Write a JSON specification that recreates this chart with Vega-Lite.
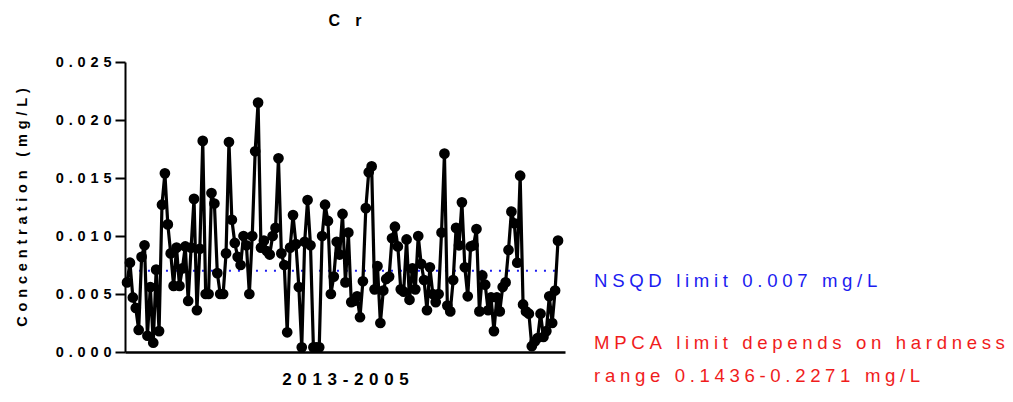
{
  "$schema": "https://vega.github.io/schema/vega-lite/v6.json",
  "width": 440,
  "height": 290,
  "autosize": {"type": "none"},
  "padding": {"left": 125, "top": 62, "right": 448, "bottom": 50},
  "background": "white",
  "title": {"text": "C\u2004 \u2004r", "font": "Liberation Sans", "fontSize": 16, "fontWeight": "bold", "color": "black", "anchor": "middle", "offset": 25},
  "config": {
    "view": {"stroke": null},
    "axis": {"grid": false, "domainColor": "black", "tickColor": "black", "labelColor": "black", "titleColor": "black", "labelFont": "Liberation Sans", "titleFont": "Liberation Sans", "labelFontWeight": "bold", "titleFontWeight": "bold"}
  },
  "datasets": {
    "cr": [
      {"i":1,"cr":0.0060},{"i":2,"cr":0.0077},{"i":3,"cr":0.0047},{"i":4,"cr":0.0038},{"i":5,"cr":0.0019},
      {"i":6,"cr":0.0082},{"i":7,"cr":0.0092},{"i":8,"cr":0.0014},{"i":9,"cr":0.0056},{"i":10,"cr":0.0008},
      {"i":11,"cr":0.0071},{"i":12,"cr":0.0018},{"i":13,"cr":0.0127},{"i":14,"cr":0.0154},{"i":15,"cr":0.0110},
      {"i":16,"cr":0.0085},{"i":17,"cr":0.0057},{"i":18,"cr":0.0090},{"i":19,"cr":0.0057},{"i":20,"cr":0.0072},
      {"i":21,"cr":0.0091},{"i":22,"cr":0.0044},{"i":23,"cr":0.0090},{"i":24,"cr":0.0132},{"i":25,"cr":0.0036},
      {"i":26,"cr":0.0089},{"i":27,"cr":0.0182},{"i":28,"cr":0.0050},{"i":29,"cr":0.0050},{"i":30,"cr":0.0137},
      {"i":31,"cr":0.0128},{"i":32,"cr":0.0068},{"i":33,"cr":0.0050},{"i":34,"cr":0.0050},{"i":35,"cr":0.0085},
      {"i":36,"cr":0.0181},{"i":37,"cr":0.0114},{"i":38,"cr":0.0094},{"i":39,"cr":0.0082},{"i":40,"cr":0.0075},
      {"i":41,"cr":0.0100},{"i":42,"cr":0.0092},{"i":43,"cr":0.0050},{"i":44,"cr":0.0100},{"i":45,"cr":0.0173},
      {"i":46,"cr":0.0215},{"i":47,"cr":0.0090},{"i":48,"cr":0.0096},{"i":49,"cr":0.0087},{"i":50,"cr":0.0084},
      {"i":51,"cr":0.0100},{"i":52,"cr":0.0107},{"i":53,"cr":0.0167},{"i":54,"cr":0.0085},{"i":55,"cr":0.0075},
      {"i":56,"cr":0.0017},{"i":57,"cr":0.0090},{"i":58,"cr":0.0118},{"i":59,"cr":0.0093},{"i":60,"cr":0.0056},
      {"i":61,"cr":0.0004},{"i":62,"cr":0.0095},{"i":63,"cr":0.0131},{"i":64,"cr":0.0092},{"i":65,"cr":0.0004},
      {"i":66,"cr":0.0004},{"i":67,"cr":0.0004},{"i":68,"cr":0.0100},{"i":69,"cr":0.0127},{"i":70,"cr":0.0113},
      {"i":71,"cr":0.0050},{"i":72,"cr":0.0065},{"i":73,"cr":0.0095},{"i":74,"cr":0.0084},{"i":75,"cr":0.0119},
      {"i":76,"cr":0.0060},{"i":77,"cr":0.0103},{"i":78,"cr":0.0043},{"i":79,"cr":0.0044},{"i":80,"cr":0.0048},
      {"i":81,"cr":0.0030},{"i":82,"cr":0.0061},{"i":83,"cr":0.0124},{"i":84,"cr":0.0155},{"i":85,"cr":0.0160},
      {"i":86,"cr":0.0054},{"i":87,"cr":0.0074},{"i":88,"cr":0.0025},{"i":89,"cr":0.0053},{"i":90,"cr":0.0063},
      {"i":91,"cr":0.0065},{"i":92,"cr":0.0098},{"i":93,"cr":0.0108},{"i":94,"cr":0.0091},{"i":95,"cr":0.0054},
      {"i":96,"cr":0.0052},{"i":97,"cr":0.0097},{"i":98,"cr":0.0045},{"i":99,"cr":0.0072},{"i":100,"cr":0.0054},
      {"i":101,"cr":0.0100},{"i":102,"cr":0.0076},{"i":103,"cr":0.0062},{"i":104,"cr":0.0036},{"i":105,"cr":0.0073},
      {"i":106,"cr":0.0050},{"i":107,"cr":0.0043},{"i":108,"cr":0.0050},{"i":109,"cr":0.0103},{"i":110,"cr":0.0171},
      {"i":111,"cr":0.0040},{"i":112,"cr":0.0035},{"i":113,"cr":0.0062},{"i":114,"cr":0.0107},{"i":115,"cr":0.0092},
      {"i":116,"cr":0.0129},{"i":117,"cr":0.0073},{"i":118,"cr":0.0048},{"i":119,"cr":0.0091},{"i":120,"cr":0.0092},
      {"i":121,"cr":0.0106},{"i":122,"cr":0.0035},{"i":123,"cr":0.0066},{"i":124,"cr":0.0058},{"i":125,"cr":0.0036},
      {"i":126,"cr":0.0047},{"i":127,"cr":0.0018},{"i":128,"cr":0.0047},{"i":129,"cr":0.0035},{"i":130,"cr":0.0056},
      {"i":131,"cr":0.0060},{"i":132,"cr":0.0088},{"i":133,"cr":0.0121},{"i":134,"cr":0.0111},{"i":135,"cr":0.0077},
      {"i":136,"cr":0.0152},{"i":137,"cr":0.0041},{"i":138,"cr":0.0035},{"i":139,"cr":0.0033},{"i":140,"cr":0.0005},
      {"i":141,"cr":0.0009},{"i":142,"cr":0.0012},{"i":143,"cr":0.0033},{"i":144,"cr":0.0013},{"i":145,"cr":0.0018},
      {"i":146,"cr":0.0048},{"i":147,"cr":0.0025},{"i":148,"cr":0.0053},{"i":149,"cr":0.0096}
    ]
  },
  "layer": [
    {
      "data": {"values": [{}]},
      "mark": {"type": "rule", "color": "#1c1cf0", "strokeWidth": 2, "strokeDash": [2, 7]},
      "encoding": {
        "x": {"datum": 2, "type": "quantitative", "scale": {"domain": [0.3, 151.4], "nice": false, "zero": false}},
        "x2": {"datum": 149},
        "y": {"datum": 0.007, "type": "quantitative", "scale": {"domain": [0, 0.025], "nice": false}}
      }
    },
    {
      "data": {"name": "cr"},
      "mark": {"type": "line", "color": "black", "strokeWidth": 3.2},
      "encoding": {
        "x": {"field": "i", "type": "quantitative", "scale": {"domain": [0.3, 151.4], "nice": false, "zero": false},
          "axis": {"labels": false, "ticks": false, "domainWidth": 2.5, "title": "2\u20040\u20041\u20043\u2004-\u20042\u20040\u20040\u20045", "titleFontSize": 17, "titlePadding": 19}},
        "y": {"field": "cr", "type": "quantitative", "scale": {"domain": [0, 0.025], "nice": false},
          "axis": {"values": [0, 0.005, 0.01, 0.015, 0.02, 0.025], "format": ".3f", "labelExpr": "join(split(datum.label, ''), '\u2004')", "labelFontSize": 14.5, "labelPadding": 4, "tickSize": 10, "tickWidth": 2, "domainWidth": 2, "title": "C\u2004o\u2004n\u2004c\u2004e\u2004n\u2004t\u2004r\u2004a\u2004t\u2004i\u2004o\u2004n\u2004 \u2004(\u2004m\u2004g\u2004/\u2004L\u2004)", "titleFontSize": 14.5, "titlePadding": 26}}
      }
    },
    {
      "data": {"name": "cr"},
      "mark": {"type": "point", "filled": true, "color": "black", "opacity": 1, "size": 115},
      "encoding": {
        "x": {"field": "i", "type": "quantitative", "scale": {"domain": [0.3, 151.4], "nice": false, "zero": false}},
        "y": {"field": "cr", "type": "quantitative", "scale": {"domain": [0, 0.025], "nice": false}}
      }
    },
    {
      "data": {"values": [{}]},
      "mark": {"type": "text", "align": "left", "baseline": "middle", "font": "Liberation Sans", "fontSize": 18.6, "color": "#1c1cf0"},
      "encoding": {
        "x": {"datum": 161.4, "type": "quantitative", "scale": {"domain": [0.3, 151.4], "nice": false, "zero": false}},
        "y": {"datum": 0.0061, "type": "quantitative", "scale": {"domain": [0, 0.025], "nice": false}},
        "text": {"value": "N\u2005S\u2005Q\u2005D\u2005 \u2005l\u2005i\u2005m\u2005i\u2005t\u2005 \u20050\u2005.\u20050\u20050\u20057\u2005 \u2005m\u2005g\u2005/\u2005L"}
      }
    },
    {
      "data": {"values": [{}]},
      "mark": {"type": "text", "align": "left", "baseline": "middle", "font": "Liberation Sans", "fontSize": 18.6, "color": "#f01c1c"},
      "encoding": {
        "x": {"datum": 161.4, "type": "quantitative", "scale": {"domain": [0.3, 151.4], "nice": false, "zero": false}},
        "y": {"datum": 0.0008, "type": "quantitative", "scale": {"domain": [0, 0.025], "nice": false}},
        "text": {"value": "M\u2005P\u2005C\u2005A\u2005 \u2005l\u2005i\u2005m\u2005i\u2005t\u2005 \u2005d\u2005e\u2005p\u2005e\u2005n\u2005d\u2005s\u2005 \u2005o\u2005n\u2005 \u2005h\u2005a\u2005r\u2005d\u2005n\u2005e\u2005s\u2005s"}
      }
    },
    {
      "data": {"values": [{}]},
      "mark": {"type": "text", "align": "left", "baseline": "middle", "font": "Liberation Sans", "fontSize": 18.6, "color": "#f01c1c"},
      "encoding": {
        "x": {"datum": 161.4, "type": "quantitative", "scale": {"domain": [0.3, 151.4], "nice": false, "zero": false}},
        "y": {"datum": -0.0021, "type": "quantitative", "scale": {"domain": [0, 0.025], "nice": false}},
        "text": {"value": "r\u2005a\u2005n\u2005g\u2005e\u2005 \u20050\u2005.\u20051\u20054\u20053\u20056\u2005-\u20050\u2005.\u20052\u20052\u20057\u20051\u2005 \u2005m\u2005g\u2005/\u2005L"}
      }
    }
  ]
}
